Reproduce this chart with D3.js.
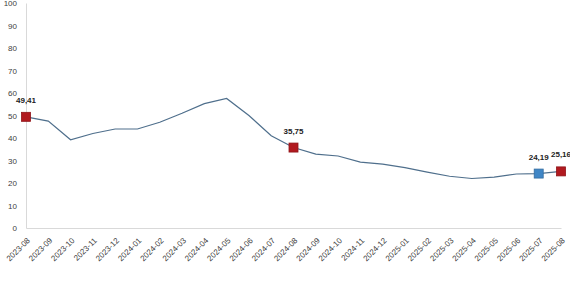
<!DOCTYPE html>
<meta charset="utf-8">
<script src="https://d3js.org/d3.v7.min.js"></script>
<style>
  body { margin: 0; background: #fff; font-family: "Liberation Sans", Arial, sans-serif; }
  .axis text { font-size: 8px; fill: #404040; }
  .axis path, .axis line { stroke: #d9d9d9; }
  .lbl { font-size: 8px; font-weight: bold; fill: #222; }
</style>
<div id="chart"></div>
<script>
  var months = ["2023-08","2023-09","2023-10","2023-11","2023-12","2024-01","2024-02","2024-03",
    "2024-04","2024-05","2024-06","2024-07","2024-08","2024-09","2024-10","2024-11","2024-12",
    "2025-01","2025-02","2025-03","2025-04","2025-05","2025-06","2025-07","2025-08"];
  var values = [49.41, 47.5, 39.2, 42, 44, 44, 47, 51, 55.3, 57.6, 50, 41, 35.75, 32.8, 32,
    29.3, 28.4, 26.8, 24.8, 23, 22, 22.6, 24, 24.19, 25.16];
  // highlighted points: index, label, colour
  var marked = [
    { i: 0, text: "49,41", color: "#b11a1f" },
    { i: 12, text: "35,75", color: "#b11a1f" },
    { i: 23, text: "24,19", color: "#3f86c6" },
    { i: 24, text: "25,16", color: "#b11a1f" }
  ];
  var yTicks = [0, 10, 20, 30, 40, 50, 60, 70, 80, 90, 100];

  var margin = { top: 3, right: 9, bottom: 57, left: 26 },
    width = 570 - margin.left - margin.right,
    height = 285 - margin.top - margin.bottom;

  var svg = d3.select("#chart").append("svg")
    .attr("width", 570).attr("height", 285)
    .append("g")
    .attr("transform", "translate(" + margin.left + "," + margin.top + ")");

  var x = d3.scalePoint().domain(months).range([0, width]);
  var y = d3.scaleLinear().domain([0, 100]).range([height, 0]);

  svg.append("g")
    .attr("class", "axis")
    .call(d3.axisLeft(y).tickValues(yTicks).tickSize(0).tickPadding(9))
    .select(".domain").attr("stroke", "#d9d9d9");

  var xa = svg.append("g")
    .attr("class", "axis")
    .attr("transform", "translate(0," + height + ")")
    .call(d3.axisBottom(x).tickSize(0));
  xa.selectAll("text")
    .attr("y", 0)
    .attr("dy", "0.35em")
    .attr("text-anchor", "end")
    .attr("transform", "translate(2,11) rotate(-45)");

  var line = d3.line()
    .x(function (d, i) { return x(months[i]); })
    .y(function (d) { return y(d); });

  svg.append("path")
    .datum(values)
    .attr("fill", "none")
    .attr("stroke", "#4f6f8c")
    .attr("stroke-width", 1.2)
    .attr("d", line);

  var s = 9;
  svg.selectAll("rect.mk").data(marked).enter().append("rect")
    .attr("class", "mk")
    .attr("x", function (d) { return x(months[d.i]) - s / 2; })
    .attr("y", function (d) { return y(values[d.i]) - s / 2; })
    .attr("width", s).attr("height", s)
    .attr("fill", function (d) { return d.color; })
    .attr("stroke", function (d) { return d3.color(d.color).darker(0.6); })
    .attr("stroke-width", 0.8);

  svg.selectAll("text.lbl").data(marked).enter().append("text")
    .attr("class", "lbl")
    .attr("text-anchor", "middle")
    .attr("x", function (d) { return x(months[d.i]); })
    .attr("y", function (d) { return y(values[d.i]) - 14; })
    .text(function (d) { return d.text; });
</script>
